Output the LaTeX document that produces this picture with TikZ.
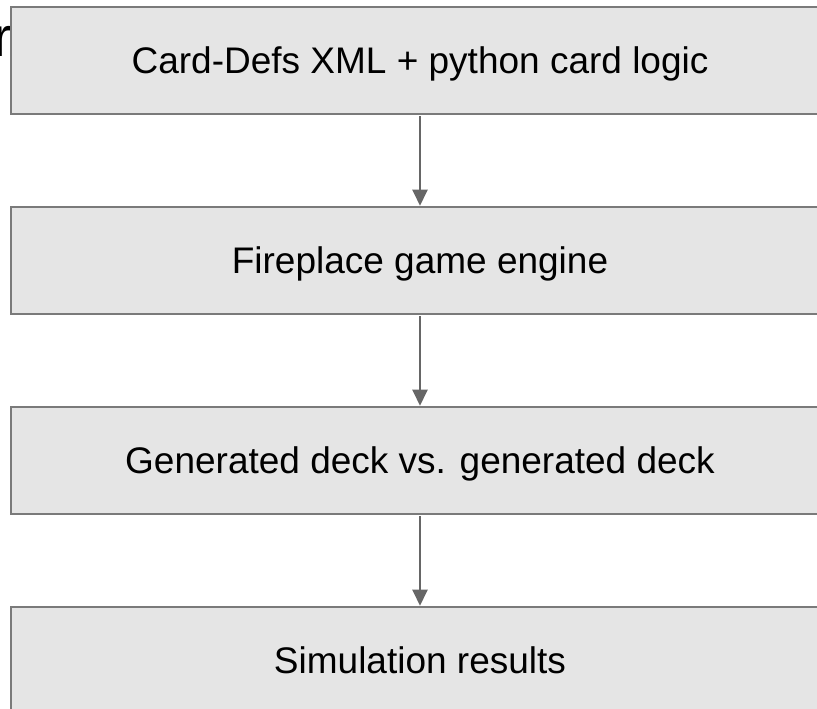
\documentclass[tikz,border=0pt]{standalone}
\usepackage{fontspec}
\setmainfont{Liberation Sans}
\usepackage{xcolor}
\usetikzlibrary{positioning,arrows.meta}
\definecolor{boxfill}{HTML}{E5E5E5}
\definecolor{boxline}{HTML}{7A7A7A}
\definecolor{arrowgray}{HTML}{666666}
\tikzset{
  stage/.style={draw=boxline, line width=2.5pt, fill=boxfill, minimum width=818pt,
    minimum height=107pt, inner sep=0pt, text height=27pt, text depth=0pt,
    font=\fontsize{37}{44}\selectfont},
  flow/.style={draw=arrowgray, line width=2pt, -{Triangle[length=16pt,width=15pt]}, shorten <=1pt}
}
\begin{document}
\begin{tikzpicture}[scale=1.000000,x=1pt,y=1pt]
\useasboundingbox (0.000000,0.000000) rectangle (817.000000,709.000000);
\clip (0.000000,0.000000) rectangle (817.000000,709.000000);
\fill[white] (0.000000,0.000000) rectangle (817.000000,709.000000);
% Stray letter on the left
\node[anchor=base east, inner sep=0pt, font=\fontsize{56}{60}\selectfont] (stray) at (12.000000,652.000000) {r};
% Drawing stages
\node[stage] (defs) at (420.000000,648.500000) {Card-Defs XML + python card logic};
\node[stage, below=90.500000pt of defs] (engine) {Fireplace game engine};
\node[stage, below=90.500000pt of engine] (decks) {Generated deck vs. generated deck};
\node[stage, below=90.500000pt of decks] (results) {Simulation results};
% Done with stages; drawing arrows
\draw[flow] (defs) -- (engine);
\draw[flow] (engine) -- (decks);
\draw[flow] (decks) -- (results);
% Done with arrows
\end{tikzpicture}
\end{document}
